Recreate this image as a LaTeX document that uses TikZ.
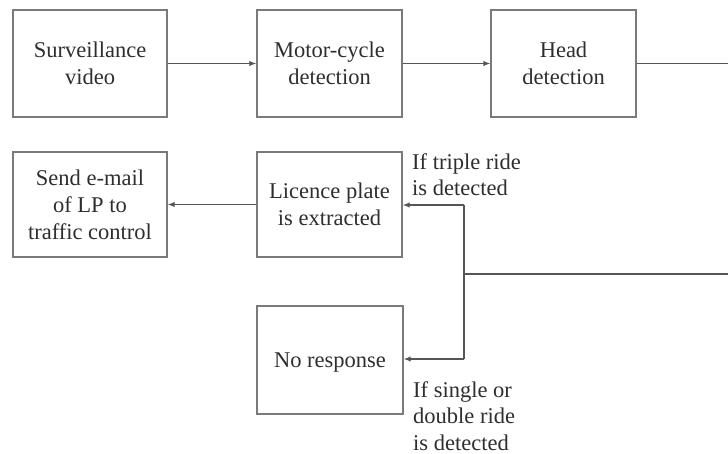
\documentclass[tikz,border=0pt]{standalone}
\usepackage{fontspec}
\setmainfont{Liberation Serif}
\usetikzlibrary{arrows.meta}
\definecolor{boxline}{HTML}{7A7A7A}
\definecolor{conline}{HTML}{555555}
\definecolor{txt}{HTML}{2E2E2E}
\begin{document}
\begin{tikzpicture}[x=1bp,y=-1bp,
  stepbox/.style={draw=boxline, line width=1.4bp, fill=white, text=txt, align=center,
    inner sep=0pt, text depth=-2.5bp, font=\fontsize{22.5bp}{27bp}\selectfont},
  conn/.style={draw=conline, line width=1.2bp},
  arr/.style={conn, -{Latex[length=7bp,width=5.5bp]}},
  lbl/.style={text=txt, align=left, inner sep=0pt, anchor=north west,
    font=\fontsize{22.5bp}{26.5bp}\selectfont}]
\useasboundingbox (0,0) rectangle (728,454);
\fill[white] (0,0) rectangle (728,454);
\node[stepbox, minimum width=154bp, minimum height=107bp] (sv) at (90,63.5) {Surveillance\\video};
\node[stepbox, minimum width=145bp, minimum height=107bp] (mc) at (329.5,63.5) {Motor-cycle\\detection};
\node[stepbox, minimum width=145bp, minimum height=107bp] (hd) at (563.5,63.5) {Head\\detection};
\node[stepbox, minimum width=154bp, minimum height=105bp] (se) at (90,204.5) {Send e-mail\\of LP to\\traffic control};
\node[stepbox, minimum width=145bp, minimum height=105bp] (lp) at (329.5,204.5) {Licence plate\\is extracted};
\node[stepbox, minimum width=146bp, minimum height=108bp] (nr) at (330,360) {No response};
\coordinate (r1) at (728,63.5);
\coordinate (r2) at (728,274);
\coordinate (j) at (464,274);
\coordinate (jt) at (464,205);
\coordinate (jb) at (464,359);
\draw[arr] (sv) -- (mc);
\draw[arr] (mc) -- (hd);
\draw[conn] (hd.east) -- (r1);
\draw[conn] (r2) -- (j);
\draw[conn] (jt) -- (jb);
\draw[arr] (jt) -- (jt -| lp.east);
\draw[arr] (jb) -- (jb -| nr.east);
\draw[arr] (lp) -- (se);
\node[lbl] (t1) at (412,153) {If triple ride\\is detected};
\node[lbl] (t2) at (413,381) {If single or\\double ride\\is detected};
\end{tikzpicture}
\end{document}
